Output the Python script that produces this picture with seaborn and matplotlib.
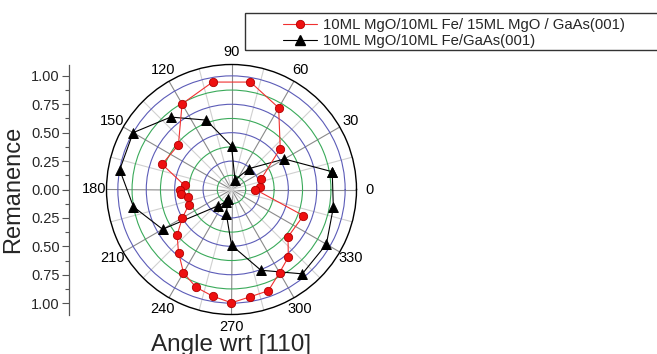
import numpy as np
import pandas as pd
import matplotlib
matplotlib.use("Agg")
import matplotlib.pyplot as plt
from matplotlib.lines import Line2D
from matplotlib.patches import Rectangle
import seaborn as sns

# ---------------- data ----------------
red_label = "10ML MgO/10ML Fe/ 15ML MgO / GaAs(001)"
red_angle = [5, 20, 40, 60, 80, 100, 120, 140, 160, 175, 180, 185, 190, 200,
             210, 220, 230, 240, 250, 260, 270, 280, 290, 300, 310, 320, 340, 360]
red_r = [0.25, 0.28, 0.56, 0.83, 0.96, 0.96, 0.87, 0.61, 0.65, 0.415, 0.45, 0.45,
         0.39, 0.40, 0.50, 0.625, 0.725, 0.845, 0.915, 0.953, 0.997, 0.958, 0.948,
         0.845, 0.778, 0.649, 0.673, 0.21]

blk_label = "10ML MgO/10ML Fe/GaAs(001)"
blk_angle = [10, 30, 50, 70, 90, 110, 130, 150, 170, 190, 210, 230, 245, 250,
             258, 270, 290, 310, 330, 350]
blk_r = [0.90, 0.537, 0.24, 0.09, 0.383, 0.65, 0.832, 1.0, 0.999, 0.876, 0.70,
         0.19, 0.12, 0.088, 0.22, 0.49, 0.756, 0.969, 0.964, 0.91]

theta_ticks = list(range(0, 360, 30))
theta_labels = [str(a) for a in theta_ticks]
ruler_ticks = [-1.0, -0.75, -0.5, -0.25, 0.0, 0.25, 0.5, 0.75, 1.0]
ruler_labels = ["1.00", "0.75", "0.50", "0.25", "0.00", "0.25", "0.50", "0.75", "1.00"]

# ---------------- figure ----------------
sns.set_theme(style="white")
plt.rcParams["font.family"] = ["Liberation Sans", "DejaVu Sans"]

W, H = 657, 354
fig = plt.figure(figsize=(W / 100, H / 100), dpi=100)

cx, cy, R = 231.5, 189.5, 125.0
rmax = 1.1
box = [(cx - R) / W, (H - cy - R) / H, 2 * R / W, 2 * R / H]
ax = fig.add_axes(box, projection="polar")

df_red = pd.DataFrame({"theta": np.deg2rad(red_angle), "r": red_r})
blk_closed_a = blk_angle + [blk_angle[0] + 360]
blk_closed_r = blk_r + [blk_r[0]]
df_blk = pd.DataFrame({"theta": np.deg2rad(blk_closed_a), "r": blk_closed_r})

red_c = "#f03030"
sns.lineplot(data=df_red, x="theta", y="r", sort=False, estimator=None, ax=ax,
             color=red_c, lw=0.8, marker="o", markersize=6,
             markerfacecolor="#ee1010", markeredgecolor="#b00000",
             markeredgewidth=0.6, legend=False, zorder=4)
sns.lineplot(data=df_blk, x="theta", y="r", sort=False, estimator=None, ax=ax,
             color="black", lw=0.8, marker="^", markersize=7.5,
             markerfacecolor="black", markeredgecolor="black",
             markeredgewidth=0.5, legend=False, zorder=3)

ax.set_xlabel("")
ax.set_ylabel("")
ax.set_ylim(0, rmax)
ax.set_xticks(np.deg2rad(theta_ticks))
ax.set_xticklabels(theta_labels)
ax.set_xticks(np.deg2rad(np.arange(15, 360, 30)), minor=True)
ax.set_yticks([0.25, 0.5, 0.75, 1.0])
ax.set_yticks([0.125, 0.375, 0.625, 0.875], minor=True)
ax.set_yticklabels([])
ax.set_yticklabels([], minor=True)
ax.set_axisbelow(True)
ax.xaxis.grid(True, which="major", color="#8a8a8a", lw=0.8)
ax.xaxis.grid(True, which="minor", color="#d0d0d0", lw=0.8)
ax.yaxis.grid(True, which="major", color="#5c5cb8", lw=0.8)
ax.yaxis.grid(True, which="minor", color="#3aaa5a", lw=0.8)
ax.tick_params(axis="x", which="major", direction="out", length=5, width=0.8,
               color="black", pad=-3, labelsize=10.5, labelcolor="black")
ax.tick_params(axis="x", which="minor", length=0)
ax.tick_params(axis="y", which="both", length=0)
ax.spines["polar"].set_color("black")
ax.spines["polar"].set_linewidth(1.0)
ax.set_facecolor("white")

# ---------------- left remanence ruler ----------------
ax2 = fig.add_axes([69 / W, box[1], 0.0001, box[3]])
ax2.set_ylim(-rmax, rmax)
ax2.set_yticks(ruler_ticks)
ax2.set_yticklabels(ruler_labels)
ax2.set_yticks(np.arange(-0.875, 0.9, 0.25), minor=True)
ax2.set_xticks([])
for s in ["top", "right", "bottom"]:
    ax2.spines[s].set_visible(False)
ax2.spines["left"].set_color("#555555")
ax2.spines["left"].set_linewidth(0.9)
ax2.patch.set_visible(False)
ax2.tick_params(axis="y", which="major", direction="out", length=5, width=0.8,
                color="#555555", pad=1.5, labelsize=10.5, left=True)
ax2.tick_params(axis="y", which="minor", direction="out", length=3, width=0.8,
                color="#555555", left=True)
ax2.set_ylabel("Remanence", fontsize=17, labelpad=5)

# ---------------- bottom label ----------------
fig.text(cx / W, 3.5 / H, "Angle wrt [110]", ha="center", va="baseline", fontsize=17.5)

# ---------------- legend ----------------
handles = [
    Line2D([], [], color=red_c, lw=0.8, marker="o", markersize=6,
           markerfacecolor="#ee1010", markeredgecolor="#b00000", markeredgewidth=0.6),
    Line2D([], [], color="black", lw=0.8, marker="^", markersize=7.5,
           markerfacecolor="black"),
]
fig.legend(handles, [red_label, blk_label], loc="upper left",
           bbox_to_anchor=(283 / W, 1 - 18 / H), frameon=False, fontsize=10.7,
           handlelength=2.3, handletextpad=0.4, labelspacing=0.12,
           borderpad=0, borderaxespad=0)
fig.patches.append(Rectangle((245 / W, (H - 50) / H), 1.0, 37 / H, fill=False,
                             edgecolor="#333333", lw=1.0, transform=fig.transFigure,
                             figure=fig))

fig.savefig("out.png", dpi=100)
